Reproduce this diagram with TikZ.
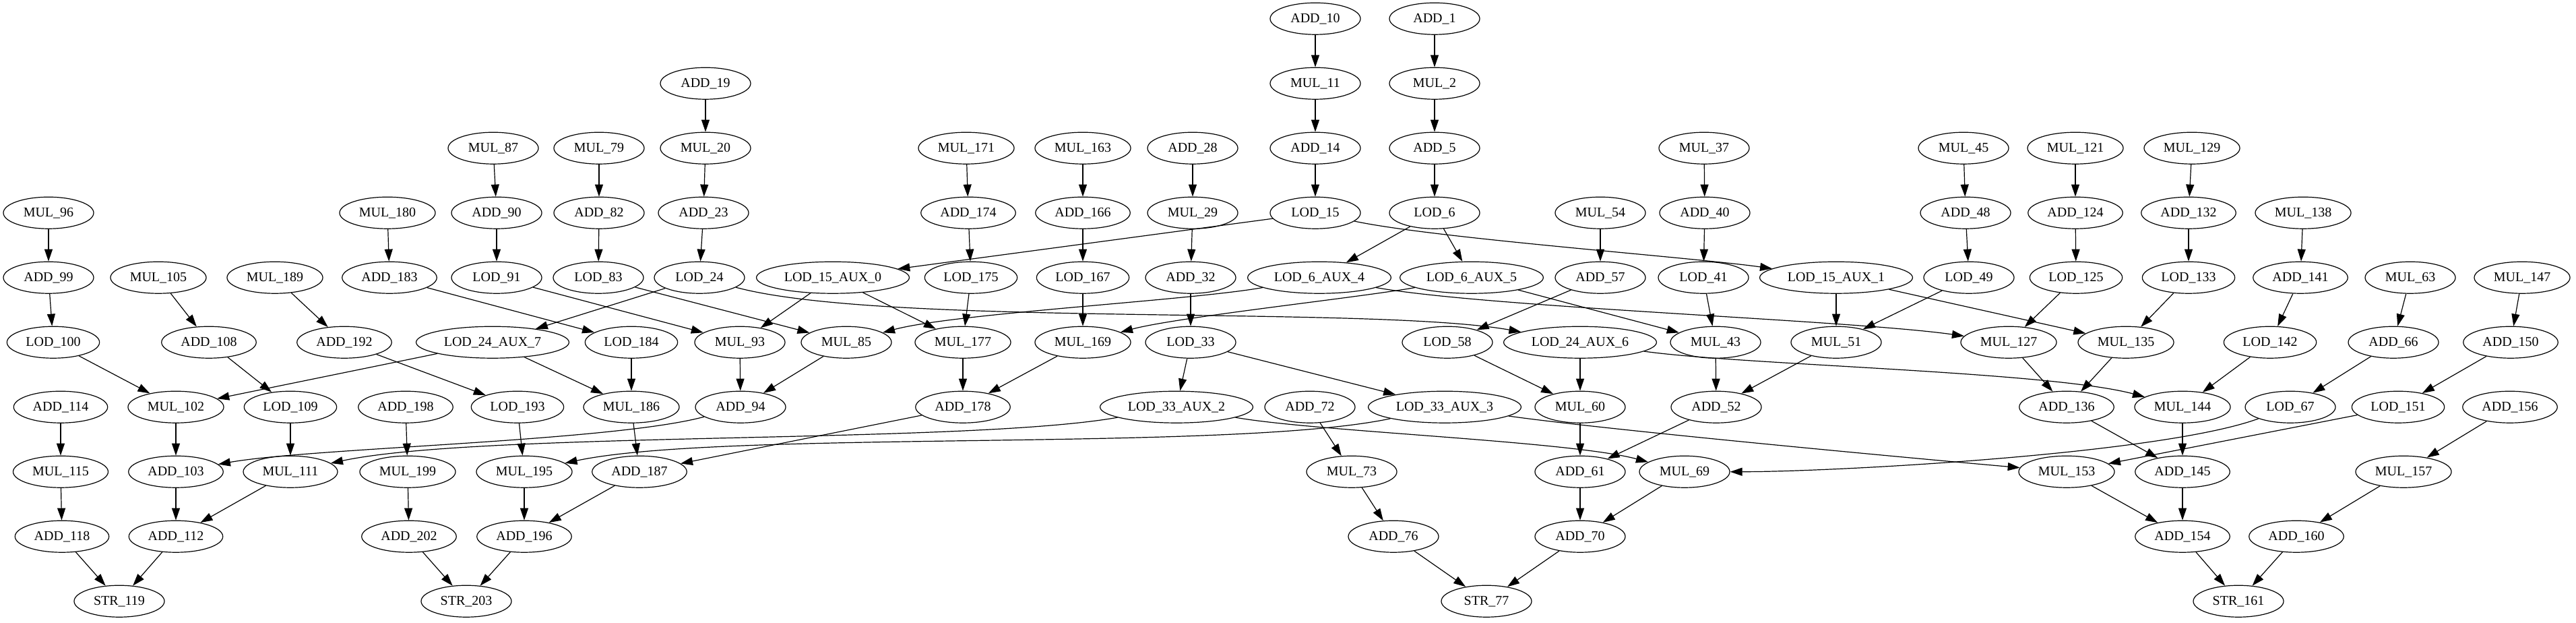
\documentclass[tikz,border=0pt]{standalone}
\usepackage{fontspec}
\setmainfont{Liberation Serif}
\usetikzlibrary{shapes.geometric}
\usetikzlibrary{arrows.meta}
\tikzset{op/.style={ % Sets the properties for each operation
      draw, ellipse, line width=0.3pt,
      minimum width=33.5pt, minimum height=11.75pt, % Smallest ellipse of the graph
      inner xsep=2pt, inner ysep=0.5pt,
      font=\fontsize{5}{6}\selectfont},
      every edge/.style={ % Sets the properties for each dependency
      draw, line width=0.3pt,
      -{Triangle[length=4.5pt,width=3pt]}},
      long/.style={looseness=0.5}} % Flatter curves for the long dependencies

\begin{document}
\begin{tikzpicture}[x=0.25pt, y=-24pt]
      \useasboundingbox (0,-0.2885) rectangle (3823,9.326);
      % row 0
      \node[op] (add10) at (1952,0) {ADD\_10};
      \node[op] (add1) at (2129,0) {ADD\_1};
      % row 1
      \node[op] (add19) at (1047,1) {ADD\_19};
      \node[op] (mul11) at (1952,1) {MUL\_11};
      \node[op] (mul2) at (2129,1) {MUL\_2};
      % row 2
      \node[op] (mul87) at (732,2) {MUL\_87};
      \node[op] (mul79) at (889,2) {MUL\_79};
      \node[op] (mul20) at (1047,2) {MUL\_20};
      \node[op] (mul171) at (1434,2) {MUL\_171};
      \node[op] (mul163) at (1607,2) {MUL\_163};
      \node[op] (add28) at (1770,2) {ADD\_28};
      \node[op] (add14) at (1952,2) {ADD\_14};
      \node[op] (add5) at (2129,2) {ADD\_5};
      \node[op] (mul37) at (2529,2) {MUL\_37};
      \node[op] (mul45) at (2914,2) {MUL\_45};
      \node[op] (mul121) at (3080,2) {MUL\_121};
      \node[op] (mul129) at (3253,2) {MUL\_129};
      % row 3
      \node[op] (mul96) at (72,3) {MUL\_96};
      \node[op] (mul180) at (575,3) {MUL\_180};
      \node[op] (add90) at (737,3) {ADD\_90};
      \node[op] (add82) at (889,3) {ADD\_82};
      \node[op] (add23) at (1044,3) {ADD\_23};
      \node[op] (add174) at (1437,3) {ADD\_174};
      \node[op] (add166) at (1607,3) {ADD\_166};
      \node[op] (mul29) at (1770,3) {MUL\_29};
      \node[op] (lod15) at (1952,3) {LOD\_15};
      \node[op] (lod6) at (2129,3) {LOD\_6};
      \node[op] (mul54) at (2375,3) {MUL\_54};
      \node[op] (add40) at (2530,3) {ADD\_40};
      \node[op] (add48) at (2917,3) {ADD\_48};
      \node[op] (add124) at (3080,3) {ADD\_124};
      \node[op] (add132) at (3248,3) {ADD\_132};
      \node[op] (mul138) at (3418,3) {MUL\_138};
      % row 4
      \node[op] (add99) at (72,4) {ADD\_99};
      \node[op] (mul105) at (235,4) {MUL\_105};
      \node[op] (mul189) at (408,4) {MUL\_189};
      \node[op] (add183) at (578,4) {ADD\_183};
      \node[op] (lod91) at (737,4) {LOD\_91};
      \node[op] (lod83) at (888,4) {LOD\_83};
      \node[op] (lod24) at (1038,4) {LOD\_24};
      \node[op] (lod15aux0) at (1236,4) {LOD\_15\_AUX\_0};
      \node[op] (lod175) at (1441,4) {LOD\_175};
      \node[op] (lod167) at (1607,4) {LOD\_167};
      \node[op] (add32) at (1767,4) {ADD\_32};
      \node[op] (lod6aux4) at (1958,4) {LOD\_6\_AUX\_4};
      \node[op] (lod6aux5) at (2184,4) {LOD\_6\_AUX\_5};
      \node[op] (add57) at (2375,4) {ADD\_57};
      \node[op] (lod41) at (2528,4) {LOD\_41};
      \node[op] (lod15aux1) at (2725,4) {LOD\_15\_AUX\_1};
      \node[op] (lod49) at (2922,4) {LOD\_49};
      \node[op] (lod125) at (3081,4) {LOD\_125};
      \node[op] (lod133) at (3248,4) {LOD\_133};
      \node[op] (add141) at (3414,4) {ADD\_141};
      \node[op] (mul63) at (3577,4) {MUL\_63};
      \node[op] (mul147) at (3743,4) {MUL\_147};
      % row 5
      \node[op] (lod100) at (79,5) {LOD\_100};
      \node[op] (add108) at (310,5) {ADD\_108};
      \node[op] (add192) at (511,5) {ADD\_192};
      \node[op] (lod24aux7) at (731,5) {LOD\_24\_AUX\_7};
      \node[op] (lod184) at (937,5) {LOD\_184};
      \node[op] (mul93) at (1098,5) {MUL\_93};
      \node[op] (mul85) at (1256,5) {MUL\_85};
      \node[op] (mul177) at (1429,5) {MUL\_177};
      \node[op] (mul169) at (1607,5) {MUL\_169};
      \node[op] (lod33) at (1767,5) {LOD\_33};
      \node[op] (lod58) at (2148,5) {LOD\_58};
      \node[op] (lod24aux6) at (2345,5) {LOD\_24\_AUX\_6};
      \node[op] (mul43) at (2546,5) {MUL\_43};
      \node[op] (mul51) at (2725,5) {MUL\_51};
      \node[op] (mul127) at (2981,5) {MUL\_127};
      \node[op] (mul135) at (3155,5) {MUL\_135};
      \node[op] (lod142) at (3369,5) {LOD\_142};
      \node[op] (add66) at (3552,5) {ADD\_66};
      \node[op] (add150) at (3726,5) {ADD\_150};
      % row 6
      \node[op] (add114) at (90,6) {ADD\_114};
      \node[op] (mul102) at (261,6) {MUL\_102};
      \node[op] (lod109) at (431,6) {LOD\_109};
      \node[op] (add198) at (602,6) {ADD\_198};
      \node[op] (lod193) at (768,6) {LOD\_193};
      \node[op] (mul186) at (937,6) {MUL\_186};
      \node[op] (add94) at (1099,6) {ADD\_94};
      \node[op] (add178) at (1429,6) {ADD\_178};
      \node[op] (lod33aux2) at (1746,6) {LOD\_33\_AUX\_2};
      \node[op] (add72) at (1944,6) {ADD\_72};
      \node[op] (lod33aux3) at (2144,6) {LOD\_33\_AUX\_3};
      \node[op] (mul60) at (2345,6) {MUL\_60};
      \node[op] (add52) at (2547,6) {ADD\_52};
      \node[op] (add136) at (3067,6) {ADD\_136};
      \node[op] (mul144) at (3239,6) {MUL\_144};
      \node[op] (lod67) at (3399,6) {LOD\_67};
      \node[op] (lod151) at (3559,6) {LOD\_151};
      \node[op] (add156) at (3725,6) {ADD\_156};
      % row 7
      \node[op] (mul115) at (90,7) {MUL\_115};
      \node[op] (add103) at (261,7) {ADD\_103};
      \node[op] (mul111) at (431,7) {MUL\_111};
      \node[op] (mul199) at (605,7) {MUL\_199};
      \node[op] (mul195) at (778,7) {MUL\_195};
      \node[op] (add187) at (949,7) {ADD\_187};
      \node[op] (mul73) at (2006,7) {MUL\_73};
      \node[op] (add61) at (2345,7) {ADD\_61};
      \node[op] (mul69) at (2500,7) {MUL\_69};
      \node[op] (mul153) at (3067,7) {MUL\_153};
      \node[op] (add145) at (3239,7) {ADD\_145};
      \node[op] (mul157) at (3567,7) {MUL\_157};
      % row 8
      \node[op] (add118) at (92,8) {ADD\_118};
      \node[op] (add112) at (261,8) {ADD\_112};
      \node[op] (add202) at (607,8) {ADD\_202};
      \node[op] (add196) at (778,8) {ADD\_196};
      \node[op] (add76) at (2068,8) {ADD\_76};
      \node[op] (add70) at (2345,8) {ADD\_70};
      \node[op] (add154) at (3239,8) {ADD\_154};
      \node[op] (add160) at (3408,8) {ADD\_160};
      % row 9
      \node[op] (str119) at (177,9) {STR\_119};
      \node[op] (str203) at (692,9) {STR\_203};
      \node[op] (str77) at (2206,9) {STR\_77};
      \node[op] (str161) at (3322,9) {STR\_161};

      % chains
      \draw (add10) edge (mul11) (mul11) edge (add14) (add14) edge (lod15);
      \draw (add1) edge (mul2) (mul2) edge (add5) (add5) edge (lod6);
      \draw (add19) edge (mul20) (mul20) edge (add23) (add23) edge (lod24);
      \draw (mul87) edge (add90) (add90) edge (lod91);
      \draw (mul79) edge (add82) (add82) edge (lod83);
      \draw (mul171) edge (add174) (add174) edge (lod175) (lod175) edge (mul177) (mul177) edge (add178);
      \draw (mul163) edge (add166) (add166) edge (lod167) (lod167) edge (mul169) (mul169) edge (add178);
      \draw (add28) edge (mul29) (mul29) edge (add32) (add32) edge (lod33);
      \draw (mul37) edge (add40) (add40) edge (lod41) (lod41) edge (mul43) (mul43) edge (add52);
      \draw (mul45) edge (add48) (add48) edge (lod49) (lod49) edge (mul51);
      \draw (mul121) edge (add124) (add124) edge (lod125) (lod125) edge (mul127);
      \draw (mul129) edge (add132) (add132) edge (lod133) (lod133) edge (mul135);
      \draw (mul138) edge (add141) (add141) edge (lod142) (lod142) edge (mul144);
      \draw (mul63) edge (add66) (add66) edge (lod67);
      \draw (mul147) edge (add150) (add150) edge (lod151);
      \draw (add156) edge (mul157) (mul157) edge (add160) (add160) edge (str161);
      \draw (mul54) edge (add57) (add57) edge (lod58);
      \draw (mul96) edge (add99) (add99) edge (lod100) (lod100) edge (mul102);
      \draw (mul105) edge (add108) (add108) edge (lod109) (lod109) edge (mul111) (mul111) edge (add112);
      \draw (mul189) edge (add192) (add192) edge (lod193) (lod193) edge (mul195) (mul195) edge (add196);
      \draw (mul180) edge (add183) (add183) edge (lod184) (lod184) edge (mul186) (mul186) edge (add187) (add187) edge (add196);
      \draw (add114) edge (mul115) (mul115) edge (add118) (add118) edge (str119);
      \draw (mul102) edge (add103) (add103) edge (add112) (add112) edge (str119);
      \draw (add198) edge (mul199) (mul199) edge (add202) (add202) edge (str203) (add196) edge (str203);
      \draw (add72) edge (mul73) (mul73) edge (add76) (add76) edge (str77);
      % loads and their copies
      \draw (lod15) edge (lod15aux0) (lod15) edge[long, out=-12, in=172] (lod15aux1);
      \draw (lod6) edge (lod6aux4) (lod6) edge (lod6aux5);
      \draw (lod24) edge (lod24aux7) (lod24) edge[long, out=-15, in=170] (lod24aux6);
      \draw (lod33) edge (lod33aux2) (lod33) edge (lod33aux3);
      \draw (lod15aux0) edge (mul93) (lod15aux0) edge (mul177);
      \draw (lod15aux1) edge (mul51) (lod15aux1) edge (mul135);
      \draw (lod6aux4) edge[long, out=190, in=15] (mul85) (lod6aux4) edge[long, out=-10, in=172] (mul127);
      \draw (lod6aux5) edge[long, out=190, in=15] (mul169) (lod6aux5) edge (mul43);
      \draw (lod24aux7) edge (mul102) (lod24aux7) edge (mul186);
      \draw (lod24aux6) edge (mul60) (lod24aux6) edge[long, out=-8, in=165] (mul144);
      \draw (lod33aux2) edge[long, out=190, in=12] (mul111) (lod33aux2) edge[long, out=-10, in=165] (mul69);
      \draw (lod33aux3) edge[long, out=192, in=12] (mul195) (lod33aux3) edge[long, out=-8, in=175] (mul153);
      \draw (lod91) edge (mul93) (lod83) edge (mul85);
      \draw (mul93) edge (add94) (mul85) edge (add94) (add94) edge[long, out=195, in=10] (add103);
      \draw (add178) edge (add187);
      \draw (lod58) edge (mul60) (mul60) edge (add61) (add52) edge (add61);
      \draw (add61) edge (add70) (mul69) edge (add70) (add70) edge (str77);
      \draw (mul51) edge (add52);
      \draw (mul127) edge (add136) (mul135) edge (add136) (add136) edge (add145);
      \draw (mul144) edge (add145) (add145) edge (add154) (mul153) edge (add154) (add154) edge (str161);
      \draw (lod67) edge[long, out=200, in=0] (mul69) (lod151) edge (mul153);
\end{tikzpicture}
\end{document}
